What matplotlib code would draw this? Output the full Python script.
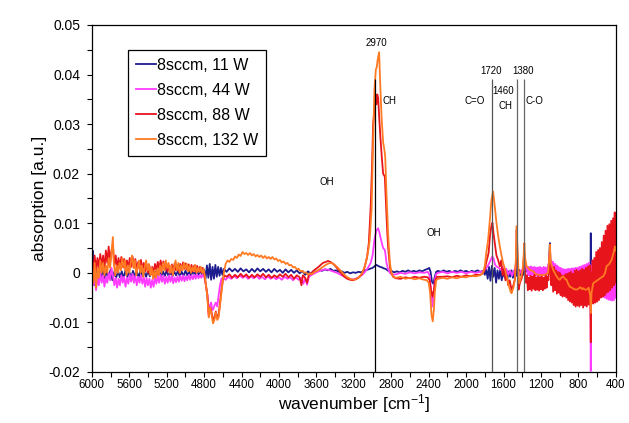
import numpy as np
import matplotlib
matplotlib.use("Agg")
import matplotlib.pyplot as plt
from matplotlib.ticker import MultipleLocator, FuncFormatter

plt.rcParams['font.family'] = ['Liberation Sans', 'DejaVu Sans']
plt.rcParams['axes.unicode_minus'] = False
plt.rcParams['mathtext.fontset'] = 'custom'
plt.rcParams['mathtext.rm'] = 'Liberation Sans'
plt.rcParams['mathtext.it'] = 'Liberation Sans'

# ---- data: (wavenumber [cm-1], absorption [a.u.]) ----
spec_11 = [
    (6000, 0.0), (5992, 0.0045), (5985, -0.001), (5975, 0.003), (5965, -0.0025), (5950, 0.001),
    (5935, -0.0015), (5920, 0.0005), (5900, -0.001), (5880, 0.0005), (5860, -0.0012), (5840, 0.0003),
    (5820, -0.0008), (5800, 0.0006), (5780, -0.0015), (5760, 0.0002), (5740, -0.001), (5720, 0.0004),
    (5700, -0.0009), (5680, 0.0003), (5660, -0.0011), (5640, 0.0005), (5620, -0.0008), (5600, 0.0002),
    (5580, -0.001), (5560, 0.0004), (5540, -0.0007), (5520, 0.0003), (5500, -0.0009), (5480, 0.0005),
    (5460, -0.0006), (5440, 0.0002), (5420, -0.0008), (5400, 0.0004), (5380, -0.0007), (5360, 0.0003),
    (5340, -0.0009), (5320, 0.0002), (5300, -0.0006), (5280, 0.0004), (5260, -0.0008), (5240, 0.0003),
    (5220, -0.0006), (5200, 0.0005), (5180, -0.0007), (5160, 0.0002), (5140, -0.0008), (5120, 0.0003),
    (5100, -0.0005), (5080, 0.0004), (5060, -0.0007), (5040, 0.0002), (5020, -0.0006), (5000, 0.0004),
    (4980, -0.0005), (4960, 0.0003), (4940, -0.0006), (4920, 0.0004), (4900, -0.0004), (4880, 0.0005),
    (4860, -0.0005), (4840, 0.0004), (4820, -0.0003), (4800, 0.0006), (4785, -0.0012), (4770, 0.0015),
    (4755, -0.001), (4740, 0.0018), (4725, -0.0014), (4710, 0.0012), (4695, -0.0012), (4680, 0.0016),
    (4665, -0.0008), (4650, 0.0012), (4635, -0.0006), (4620, 0.001), (4605, -0.0004), (4590, 0.0008),
    (4560, 0.0002), (4530, 0.0009), (4500, 0.0003), (4470, 0.0008), (4440, 0.0002), (4410, 0.0009),
    (4380, 0.0003), (4350, 0.0007), (4320, 0.0001), (4290, 0.0008), (4260, 0.0002), (4230, 0.0009),
    (4200, 0.0003), (4170, 0.0008), (4140, 0.0002), (4110, 0.0007), (4080, 0.0001), (4050, 0.0008),
    (4020, 0.0002), (3990, 0.0006), (3960, 0.0), (3930, 0.0007), (3900, 0.0001), (3870, 0.0006),
    (3840, 0.0), (3810, 0.0005), (3780, -0.0001), (3750, 0.0004), (3720, -0.0004), (3690, 0.0003),
    (3660, -0.0002), (3630, 0.0004), (3600, 0.0002), (3570, 0.0006), (3540, 0.0004), (3510, 0.0007),
    (3480, 0.0005), (3450, 0.0008), (3420, 0.0004), (3390, 0.0005), (3360, 0.0002), (3330, 0.0003),
    (3300, 0.0), (3270, 0.0002), (3240, -0.0001), (3210, 0.0001), (3180, 0.0), (3150, 0.0002),
    (3120, 0.0001), (3090, 0.0004), (3060, 0.0006), (3030, 0.0008), (3000, 0.001), (2980, 0.0013),
    (2960, 0.0016), (2940, 0.0014), (2920, 0.0012), (2900, 0.0011), (2880, 0.0009), (2860, 0.0008),
    (2840, 0.0005), (2820, 0.0003), (2800, 0.0004), (2770, 0.0001), (2740, 0.0003), (2710, 0.0001),
    (2680, 0.0004), (2650, 0.0002), (2620, 0.0005), (2590, 0.0002), (2560, 0.0004), (2530, 0.0002),
    (2500, 0.0005), (2470, 0.0003), (2440, 0.0006), (2410, 0.0008), (2395, 0.001), (2380, 0.0002),
    (2365, -0.0018), (2350, -0.0022), (2335, -0.0008), (2320, 0.0002), (2300, 0.0004), (2270, 0.0002),
    (2240, 0.0005), (2210, 0.0002), (2180, 0.0004), (2150, 0.0001), (2120, 0.0004), (2090, 0.0002),
    (2060, 0.0005), (2030, 0.0002), (2000, 0.0004), (1970, 0.0001), (1940, 0.0004), (1910, 0.0002),
    (1880, 0.0005), (1850, 0.0002), (1820, 0.0004), (1800, -0.0004), (1785, 0.0008), (1770, -0.0012),
    (1755, 0.0012), (1740, -0.0016), (1725, 0.0014), (1710, -0.0008), (1695, 0.001), (1680, -0.002),
    (1665, 0.0005), (1650, -0.0012), (1635, 0.0008), (1620, -0.0015), (1605, 0.0004), (1590, -0.0009),
    (1575, 0.0006), (1560, -0.0012), (1545, 0.0003), (1530, -0.0008), (1515, 0.0005), (1500, -0.001),
    (1485, 0.0004), (1470, -0.0006), (1460, 0.0012), (1450, -0.0008), (1435, 0.0006), (1420, -0.0005),
    (1405, 0.0005), (1390, -0.0004), (1380, 0.001), (1365, 0.0002), (1340, 0.0006), (1310, 0.0004),
    (1280, 0.0007), (1250, 0.0005), (1220, 0.0007), (1190, 0.0004), (1160, 0.0006), (1130, 0.0005),
    (1115, 0.002), (1105, 0.006), (1098, 0.001), (1085, -0.0005), (1060, -0.001), (1030, -0.0012),
    (1000, -0.0015), (970, -0.0018), (940, -0.002), (910, -0.0022), (880, -0.0024), (850, -0.0026),
    (820, -0.0028), (790, -0.0029), (760, -0.003), (730, -0.003), (700, -0.0028), (680, -0.0026),
    (672, -0.002), (668, 0.008), (664, -0.002), (650, -0.0022), (620, -0.0018), (590, -0.0012),
    (560, -0.0008), (530, -0.0002), (500, 0.0005), (470, 0.0012), (440, 0.002), (420, 0.0028),
    (400, 0.003),
]

spec_44 = [
    (6000, 0.0), (5985, -0.0025), (5970, -0.0005), (5955, -0.0035), (5940, -0.001), (5925, -0.0025),
    (5910, 0.0), (5895, -0.002), (5880, -0.0005), (5865, -0.0028), (5850, -0.0008), (5835, -0.002),
    (5820, 0.0), (5805, -0.0015), (5790, 0.001), (5775, -0.0005), (5760, -0.0025), (5745, -0.001),
    (5730, -0.003), (5715, -0.0012), (5700, -0.0025), (5685, -0.0005), (5670, -0.002), (5655, -0.0008),
    (5640, -0.0028), (5625, -0.001), (5610, -0.0022), (5595, -0.0004), (5580, -0.0018), (5565, -0.0002),
    (5550, -0.002), (5535, -0.0006), (5520, -0.0025), (5505, -0.0008), (5490, -0.002), (5475, -0.0005),
    (5460, -0.0022), (5445, -0.0009), (5430, -0.0028), (5415, -0.001), (5400, -0.0025), (5385, -0.0012),
    (5370, -0.003), (5355, -0.0014), (5340, -0.0028), (5325, -0.001), (5310, -0.0022), (5295, -0.0006),
    (5280, -0.002), (5265, -0.0004), (5250, -0.0018), (5235, -0.0006), (5220, -0.0022), (5205, -0.0008),
    (5190, -0.002), (5175, -0.0005), (5160, -0.0018), (5145, -0.0006), (5130, -0.0021), (5115, -0.0009),
    (5100, -0.0019), (5085, -0.0007), (5070, -0.0018), (5055, -0.0006), (5040, -0.0016), (5025, -0.0005),
    (5010, -0.0017), (4995, -0.0007), (4980, -0.0015), (4965, -0.0004), (4950, -0.0014), (4935, -0.0005),
    (4920, -0.0013), (4905, -0.0004), (4890, -0.0012), (4875, -0.0003), (4860, -0.0011), (4845, -0.0004),
    (4830, -0.001), (4815, -0.0003), (4800, -0.0008), (4785, -0.002), (4765, -0.0045), (4750, -0.0088),
    (4738, -0.0065), (4725, -0.006), (4712, -0.0075), (4700, -0.0072), (4688, -0.0065), (4675, -0.006),
    (4660, -0.0068), (4645, -0.0045), (4630, -0.0025), (4615, -0.0012), (4600, -0.001), (4570, -0.0014),
    (4540, -0.0008), (4510, -0.0012), (4480, -0.0006), (4450, -0.0011), (4420, -0.0005), (4390, -0.001),
    (4360, -0.0006), (4330, -0.0012), (4300, -0.0007), (4270, -0.0011), (4240, -0.0006), (4210, -0.0012),
    (4180, -0.0008), (4150, -0.0013), (4120, -0.0007), (4090, -0.0012), (4060, -0.0008), (4030, -0.0013),
    (4000, -0.0009), (3970, -0.0014), (3940, -0.0008), (3910, -0.0012), (3880, -0.0009), (3850, -0.0015),
    (3820, -0.0009), (3790, -0.0014), (3760, -0.001), (3740, -0.0022), (3720, -0.0011), (3700, -0.0024),
    (3680, -0.0008), (3650, -0.0004), (3620, -0.0001), (3590, 0.0002), (3560, 0.0004), (3530, 0.0006),
    (3500, 0.0007), (3470, 0.0006), (3440, 0.0004), (3410, 0.0002), (3380, 0.0), (3350, -0.0003),
    (3320, -0.0006), (3290, -0.0009), (3260, -0.0011), (3230, -0.0013), (3200, -0.0013), (3170, -0.0011),
    (3140, -0.0008), (3110, -0.0004), (3080, 0.0002), (3050, 0.001), (3020, 0.002), (3000, 0.0035),
    (2980, 0.0067), (2960, 0.0085), (2940, 0.009), (2925, 0.008), (2910, 0.0067), (2898, 0.0058),
    (2887, 0.005), (2869, 0.0046), (2860, 0.0035), (2851, 0.002), (2835, 0.0008), (2815, 0.0),
    (2790, -0.0004), (2750, -0.0003), (2700, 0.0), (2650, -0.0002), (2600, 0.0001), (2550, -0.0001),
    (2500, 0.0001), (2450, 0.0), (2410, 0.0002), (2390, -0.0005), (2375, -0.0035), (2360, -0.0068),
    (2348, -0.0045), (2335, -0.0015), (2320, -0.0002), (2300, 0.0), (2250, 0.0002), (2200, -0.0001),
    (2150, 0.0002), (2100, 0.0), (2050, 0.0002), (2000, -0.0001), (1950, 0.0002), (1900, 0.0),
    (1850, 0.0002), (1820, 0.0003), (1790, 0.0008), (1765, 0.0015), (1740, 0.0025), (1720, 0.0033),
    (1705, 0.0028), (1690, 0.0016), (1670, 0.0012), (1650, 0.001), (1630, 0.0006), (1610, 0.0012),
    (1590, 0.0002), (1570, 0.0008), (1550, -0.0004), (1530, 0.0005), (1510, -0.0006), (1490, 0.0004),
    (1475, 0.0008), (1460, 0.003), (1450, 0.0008), (1435, -0.0004), (1415, 0.0005), (1395, 0.0006),
    (1380, 0.002), (1370, 0.0008), (1350, 0.001), (1340, -0.0005), (1330, 0.0012), (1320, -0.0006),
    (1310, 0.0013), (1300, -0.0004), (1290, 0.0011), (1280, -0.0007), (1270, 0.0012), (1260, -0.0005),
    (1250, 0.001), (1240, -0.0008), (1230, 0.0011), (1220, -0.0006), (1210, 0.0012), (1200, -0.0007),
    (1190, 0.001), (1180, -0.0005), (1170, 0.0012), (1160, -0.0006), (1150, 0.0011), (1140, -0.0004),
    (1130, 0.0009), (1115, 0.002), (1105, 0.0045), (1095, 0.001), (1090, 0.0024), (1080, -0.0008),
    (1070, 0.0022), (1060, -0.0009), (1050, 0.0018), (1040, -0.001), (1030, 0.0015), (1020, -0.0012),
    (1010, 0.0012), (1000, -0.0012), (990, 0.001), (980, -0.0014), (970, 0.0008), (960, -0.0014),
    (950, 0.0007), (940, -0.0016), (930, 0.0007), (920, -0.0018), (910, 0.0008), (900, -0.002),
    (890, 0.0008), (880, -0.0022), (870, 0.0009), (860, -0.0025), (850, 0.0009), (840, -0.0028),
    (830, 0.001), (820, -0.003), (810, 0.001), (800, -0.0032), (790, 0.0012), (780, -0.0033),
    (770, 0.0013), (760, -0.0034), (750, 0.0015), (740, -0.0036), (730, 0.0016), (720, -0.0036),
    (710, 0.0018), (700, -0.0036), (690, 0.002), (680, -0.0036), (672, 0.0015), (668, -0.0198),
    (664, 0.0), (660, -0.0038), (650, 0.0024), (640, -0.004), (630, 0.0026), (620, -0.0042),
    (610, 0.003), (600, -0.0044), (590, 0.0032), (580, -0.0045), (570, 0.0035), (560, -0.0046),
    (550, 0.0038), (540, -0.0048), (530, 0.004), (520, -0.005), (510, 0.0042), (500, -0.0052),
    (490, 0.0044), (480, -0.0054), (470, 0.0046), (460, -0.0055), (450, 0.0048), (440, -0.0056),
    (430, 0.005), (420, -0.0055), (410, 0.005), (400, -0.005),
]

spec_88 = [
    (6000, 0.003), (5985, 0.0), (5970, 0.0035), (5955, 0.0005), (5940, 0.003), (5925, 0.001),
    (5910, 0.0038), (5895, 0.0012), (5880, 0.0035), (5865, 0.0008), (5850, 0.0045), (5835, 0.002),
    (5820, 0.0053), (5805, 0.002), (5790, 0.0045), (5775, 0.0055), (5760, 0.0015), (5745, 0.0035),
    (5730, 0.0008), (5715, 0.003), (5700, 0.001), (5685, 0.0032), (5670, 0.0012), (5655, 0.0028),
    (5640, 0.0005), (5625, 0.0025), (5610, 0.0008), (5595, 0.003), (5580, 0.0012), (5565, 0.0033),
    (5550, 0.001), (5535, 0.0028), (5520, 0.0005), (5505, 0.0022), (5490, 0.0008), (5475, 0.0026),
    (5460, 0.0006), (5445, 0.002), (5430, 0.0003), (5415, 0.0018), (5400, 0.0), (5385, 0.0015),
    (5370, -0.0003), (5355, 0.0012), (5340, 0.0), (5325, 0.0018), (5310, 0.0005), (5295, 0.0022),
    (5280, 0.0008), (5265, 0.0025), (5250, 0.001), (5235, 0.0023), (5220, 0.0005), (5205, 0.0018),
    (5190, 0.0002), (5175, 0.0015), (5160, 0.0), (5145, 0.0017), (5130, 0.0003), (5115, 0.0019),
    (5100, 0.0005), (5085, 0.0016), (5070, 0.0002), (5055, 0.0018), (5040, 0.0006), (5025, 0.0021),
    (5010, 0.0008), (4995, 0.0019), (4980, 0.0005), (4965, 0.0017), (4950, 0.0004), (4935, 0.0016),
    (4920, 0.0003), (4905, 0.0015), (4890, 0.0002), (4875, 0.0014), (4860, 0.0003), (4845, 0.0012),
    (4830, 0.0001), (4815, 0.001), (4800, 0.0), (4785, -0.002), (4765, -0.0045), (4750, -0.0085),
    (4735, -0.007), (4720, -0.008), (4705, -0.0095), (4690, -0.009), (4675, -0.0078), (4660, -0.009),
    (4645, -0.0085), (4630, -0.006), (4615, -0.0035), (4600, -0.0015), (4585, -0.0005), (4560, -0.0008),
    (4530, -0.0003), (4500, -0.001), (4470, -0.0004), (4440, -0.0009), (4410, -0.0002), (4380, -0.0008),
    (4350, -0.0003), (4320, -0.001), (4290, -0.0004), (4260, -0.0009), (4230, -0.0003), (4200, -0.0008),
    (4170, -0.0002), (4140, -0.0009), (4110, -0.0004), (4080, -0.001), (4050, -0.0005), (4020, -0.0009),
    (3990, -0.0003), (3960, -0.0008), (3930, -0.0002), (3900, -0.0009), (3870, -0.0004), (3840, -0.0012),
    (3810, -0.0005), (3780, -0.0009), (3760, -0.0025), (3745, -0.0005), (3720, -0.001), (3700, -0.002),
    (3680, -0.0003), (3650, 0.0), (3620, 0.0006), (3590, 0.001), (3560, 0.0015), (3530, 0.002),
    (3500, 0.0022), (3475, 0.0024), (3450, 0.0022), (3420, 0.0018), (3390, 0.0012), (3360, 0.0005),
    (3330, -0.0002), (3300, -0.0008), (3270, -0.0012), (3240, -0.0014), (3210, -0.0015), (3180, -0.0013),
    (3150, -0.001), (3120, -0.0004), (3090, 0.0008), (3060, 0.003), (3040, 0.006), (3020, 0.0133),
    (3005, 0.022), (2994, 0.03), (2975, 0.034), (2958, 0.034), (2950, 0.036), (2940, 0.0353),
    (2928, 0.031), (2915, 0.027), (2900, 0.023), (2887, 0.02), (2869, 0.0194), (2855, 0.0133),
    (2845, 0.009), (2834, 0.0053), (2815, 0.0012), (2800, 0.0), (2780, -0.0008), (2750, -0.0011),
    (2700, -0.0012), (2650, -0.0009), (2600, -0.0011), (2550, -0.0008), (2500, -0.001), (2450, -0.0008),
    (2410, -0.0009), (2390, -0.0015), (2375, -0.0035), (2360, -0.0048), (2345, -0.0035), (2330, -0.0015),
    (2310, -0.0008), (2250, -0.0008), (2200, -0.0007), (2150, -0.0009), (2100, -0.0006), (2050, -0.0008),
    (2000, -0.0005), (1950, -0.0007), (1900, -0.0004), (1850, -0.0004), (1820, -0.0001), (1800, 0.0008),
    (1780, 0.0025), (1760, 0.004), (1745, 0.0075), (1730, 0.0095), (1719, 0.0101), (1708, 0.008),
    (1694, 0.006), (1676, 0.0035), (1658, 0.0026), (1640, 0.0013), (1625, 0.0025), (1610, -0.0005),
    (1595, 0.0008), (1580, -0.0015), (1565, -0.0005), (1550, -0.0025), (1535, -0.0015), (1515, -0.0034),
    (1495, -0.0025), (1478, -0.0012), (1468, 0.002), (1460, 0.0087), (1450, 0.002), (1440, -0.0034),
    (1425, -0.002), (1405, -0.001), (1390, 0.001), (1380, 0.004), (1372, 0.0005), (1360, -0.002),
    (1350, -0.0005), (1340, -0.0035), (1330, -0.001), (1320, -0.0033), (1310, -0.0006), (1300, -0.0036),
    (1290, -0.0008), (1280, -0.0032), (1270, -0.0004), (1260, -0.0035), (1250, -0.001), (1240, -0.0034),
    (1230, -0.0007), (1220, -0.0036), (1210, -0.0009), (1200, -0.0033), (1190, -0.0006), (1180, -0.0035),
    (1170, -0.001), (1160, -0.0032), (1150, -0.0005), (1140, -0.003), (1130, -0.0008), (1120, -0.0015),
    (1112, 0.002), (1105, 0.004), (1098, 0.0005), (1090, -0.0025), (1080, 0.001), (1070, -0.0038),
    (1060, 0.0012), (1050, -0.0035), (1040, 0.0005), (1030, -0.0042), (1020, 0.0002), (1010, -0.004),
    (1000, 0.0), (990, -0.0045), (980, -0.0005), (970, -0.0048), (960, -0.0006), (950, -0.0047),
    (940, -0.0003), (930, -0.005), (920, -0.0002), (910, -0.0055), (900, 0.0), (890, -0.0058),
    (880, 0.0002), (870, -0.006), (860, -0.0002), (850, -0.0065), (840, 0.0004), (830, -0.0068),
    (820, 0.0006), (810, -0.0066), (800, 0.0003), (790, -0.0068), (780, 0.0005), (770, -0.0065),
    (760, 0.0008), (750, -0.007), (740, 0.0006), (730, -0.0066), (720, 0.001), (710, -0.0068),
    (700, 0.0012), (690, -0.0064), (680, 0.0015), (672, -0.006), (668, -0.014), (664, 0.0),
    (660, -0.0062), (650, 0.0025), (640, -0.0062), (630, 0.003), (620, -0.006), (610, 0.0042),
    (600, -0.0058), (590, 0.0046), (580, -0.0055), (570, 0.005), (560, -0.005), (550, 0.0062),
    (540, -0.0048), (530, 0.0075), (520, -0.0045), (510, 0.0085), (500, -0.004), (490, 0.0095),
    (480, -0.0038), (470, 0.0098), (460, -0.0035), (450, 0.0105), (440, -0.003), (430, 0.011),
    (420, -0.0025), (412, 0.0122), (406, -0.002), (400, 0.0115),
]

spec_132 = [
    (6000, 0.0005), (5985, -0.002), (5970, 0.002), (5955, -0.003), (5940, 0.001), (5925, -0.001),
    (5910, 0.0025), (5895, 0.0), (5880, 0.002), (5865, -0.0005), (5850, 0.0015), (5835, 0.0),
    (5820, 0.003), (5805, 0.001), (5790, 0.004), (5775, 0.0072), (5765, 0.002), (5750, -0.0005),
    (5735, 0.0015), (5720, 0.0), (5705, 0.002), (5690, 0.0005), (5675, 0.003), (5660, 0.001),
    (5645, 0.0025), (5630, -0.0005), (5615, 0.0015), (5600, 0.0), (5585, 0.002), (5570, 0.0035),
    (5555, 0.001), (5540, 0.0025), (5525, -0.0005), (5510, 0.001), (5495, 0.0025), (5480, 0.0),
    (5465, 0.0015), (5450, -0.0008), (5435, 0.001), (5420, 0.0025), (5405, 0.0005), (5390, 0.0018),
    (5375, -0.0005), (5360, 0.001), (5345, -0.0012), (5330, 0.0005), (5315, -0.001), (5300, 0.0008),
    (5285, -0.0005), (5270, 0.0015), (5255, 0.0), (5240, 0.002), (5225, 0.0005), (5210, 0.0025),
    (5195, 0.001), (5180, 0.002), (5165, 0.0), (5150, 0.0015), (5135, -0.0005), (5120, 0.001),
    (5105, 0.0025), (5090, 0.0005), (5075, 0.002), (5060, 0.0), (5045, 0.0015), (5030, 0.0005),
    (5015, 0.002), (5000, 0.0008), (4985, 0.0018), (4970, 0.0003), (4955, 0.0015), (4940, 0.0),
    (4925, 0.0012), (4910, 0.0003), (4895, 0.0016), (4880, 0.0), (4865, 0.001), (4850, 0.0002),
    (4835, 0.0012), (4820, 0.0), (4805, 0.0008), (4790, -0.001), (4770, -0.004), (4750, -0.009),
    (4735, -0.007), (4720, -0.0085), (4705, -0.0102), (4690, -0.0095), (4675, -0.008), (4660, -0.0095),
    (4645, -0.009), (4630, -0.0065), (4615, -0.004), (4600, -0.0015), (4585, 0.0005), (4570, 0.0018),
    (4550, 0.0025), (4530, 0.0022), (4510, 0.0028), (4490, 0.0026), (4470, 0.0033), (4450, 0.003),
    (4430, 0.0037), (4410, 0.0034), (4390, 0.0042), (4370, 0.0038), (4350, 0.004), (4330, 0.0036),
    (4310, 0.004), (4290, 0.0035), (4270, 0.0038), (4250, 0.0033), (4230, 0.0036), (4210, 0.0032),
    (4190, 0.0035), (4170, 0.003), (4150, 0.0034), (4130, 0.0029), (4110, 0.0032), (4090, 0.0028),
    (4070, 0.0032), (4050, 0.0027), (4030, 0.0029), (4010, 0.0024), (3990, 0.0026), (3970, 0.0021),
    (3950, 0.0023), (3930, 0.0018), (3910, 0.002), (3890, 0.0015), (3870, 0.0016), (3850, 0.0011),
    (3830, 0.0012), (3810, 0.0007), (3790, 0.0008), (3770, 0.0003), (3750, 0.0004), (3730, 0.0),
    (3710, 0.0001), (3690, -0.0004), (3670, -0.0001), (3650, -0.0003), (3620, 0.0002), (3590, 0.0004),
    (3560, 0.0008), (3530, 0.0012), (3500, 0.0016), (3470, 0.0019), (3440, 0.002), (3410, 0.0017),
    (3380, 0.0012), (3350, 0.0006), (3320, 0.0), (3290, -0.0006), (3260, -0.001), (3230, -0.0013),
    (3200, -0.0014), (3170, -0.0012), (3140, -0.0008), (3110, 0.0), (3080, 0.0015), (3050, 0.004),
    (3030, 0.0067), (3010, 0.013), (2994, 0.0269), (2980, 0.037), (2965, 0.041), (2955, 0.0415),
    (2945, 0.043), (2930, 0.0445), (2918, 0.038), (2904, 0.0315), (2887, 0.0263), (2875, 0.025),
    (2865, 0.0235), (2851, 0.016), (2834, 0.008), (2815, 0.002), (2798, 0.0), (2780, -0.0008),
    (2750, -0.001), (2700, -0.0008), (2650, -0.0012), (2600, -0.001), (2550, -0.0013), (2500, -0.0011),
    (2450, -0.0014), (2420, -0.0015), (2400, -0.002), (2385, -0.004), (2370, -0.0085), (2357, -0.0098),
    (2345, -0.0075), (2335, -0.004), (2320, -0.0015), (2300, -0.0012), (2250, -0.001), (2200, -0.0012),
    (2150, -0.0009), (2100, -0.0011), (2050, -0.0008), (2000, -0.0009), (1950, -0.0006), (1900, -0.0007),
    (1850, -0.0005), (1820, 0.0), (1801, 0.0013), (1785, 0.004), (1765, 0.0067), (1745, 0.011),
    (1730, 0.0147), (1712, 0.0164), (1694, 0.0134), (1676, 0.0101), (1658, 0.0075), (1640, 0.0053),
    (1622, 0.0035), (1605, 0.002), (1585, 0.0008), (1568, -0.0007), (1545, -0.0025), (1525, -0.0038),
    (1515, -0.0041), (1495, -0.003), (1479, -0.0014), (1468, 0.003), (1460, 0.0094), (1450, 0.004),
    (1433, -0.0021), (1415, -0.001), (1397, 0.0006), (1385, 0.0035), (1378, 0.006), (1370, 0.003),
    (1353, 0.0013), (1320, 0.0006), (1284, 0.0003), (1250, -0.0003), (1213, -0.0004), (1180, -0.0005),
    (1150, -0.0003), (1124, 0.0), (1112, 0.003), (1105, 0.0057), (1095, 0.002), (1070, 0.0006),
    (1040, -0.0005), (1015, -0.0012), (999, -0.0014), (980, -0.0009), (963, -0.0007), (945, -0.0012),
    (927, -0.0014), (910, -0.0022), (892, -0.0028), (870, -0.003), (845, -0.0033), (820, -0.0034),
    (800, -0.0032), (780, -0.0029), (760, -0.0033), (749, -0.0031), (730, -0.0034), (713, -0.0034),
    (690, -0.003), (675, -0.0045), (667, -0.0081), (660, -0.004), (642, -0.0021), (620, -0.0018),
    (589, -0.0014), (560, -0.001), (535, -0.0007), (515, 0.0), (500, 0.0013), (470, 0.0018),
    (446, 0.0026), (425, 0.004), (410, 0.0053), (400, 0.0045),
]

series_names = ["8sccm, 11 W", "8sccm, 44 W", "8sccm, 88 W", "8sccm, 132 W"]
series_data = [spec_11, spec_44, spec_88, spec_132]
series_colors = ["#1c1c8e", "#ff3cff", "#e8141c", "#ff7a22"]

# band markers: position, top of line
marker_wn = [2970, 1720, 1460, 1380]
marker_top = 0.039
marker_colors = ["black", "#555555", "#666666", "#666666"]

# band labels: text, wavenumber, absorption
band_labels = [
    ("2970", 2954, 0.0463), ("CH", 2819, 0.0346), ("OH", 3492, 0.0183), ("OH", 2347, 0.0081),
    ("1720", 1738, 0.0408), ("1380", 1396, 0.0408), ("1460", 1603, 0.0366), ("CH", 1576, 0.0336),
    ("C=O", 1904, 0.0346), ("C-O", 1271, 0.0346),
]

fig = plt.figure(figsize=(6.29, 4.23), dpi=100)
ax = fig.add_axes([0.146, 0.1206, 0.8331, 0.8204])

for name, data, col in zip(series_names, series_data, series_colors):
    arr = np.array(data)
    ax.plot(arr[:, 0], arr[:, 1], color=col, lw=1.3, label=name)

for wn, c in zip(marker_wn, marker_colors):
    ax.vlines(wn, -0.02, marker_top, color=c, lw=0.9, zorder=5)

for txt, wn, y in band_labels:
    ax.text(wn, y, txt, fontsize=7, ha='center', va='center')

ax.set_xlim(6000, 400)
ax.set_ylim(-0.02, 0.05)
ax.xaxis.set_major_locator(MultipleLocator(400))
ax.xaxis.set_minor_locator(MultipleLocator(200))
ax.yaxis.set_major_locator(MultipleLocator(0.01))
ax.yaxis.set_minor_locator(MultipleLocator(0.005))
ax.yaxis.set_major_formatter(FuncFormatter(lambda v, p: "%g" % round(v, 3)))
ax.tick_params(axis='x', which='both', direction='out', length=3.5, width=0.8, labelsize=8.3, pad=1.5)
ax.tick_params(axis='y', which='both', direction='out', length=3.5, width=0.8, labelsize=10, pad=5)
for sp in ax.spines.values():
    sp.set_linewidth(0.9)

ax.set_xlabel("wavenumber [cm$^{-1}$]", fontsize=12.5, labelpad=1)
ax.set_ylabel("absorption [a.u.]", fontsize=12.5, labelpad=1)

leg = ax.legend(loc='upper left', bbox_to_anchor=(0.0687, 0.928), borderaxespad=0,
                fontsize=11.5, handlelength=1.25, handletextpad=0.05, labelspacing=0.62,
                borderpad=0.5, fancybox=False, framealpha=1)
leg.get_frame().set_edgecolor('black')
leg.get_frame().set_linewidth(0.9)

fig.savefig("out.png", dpi=100)
